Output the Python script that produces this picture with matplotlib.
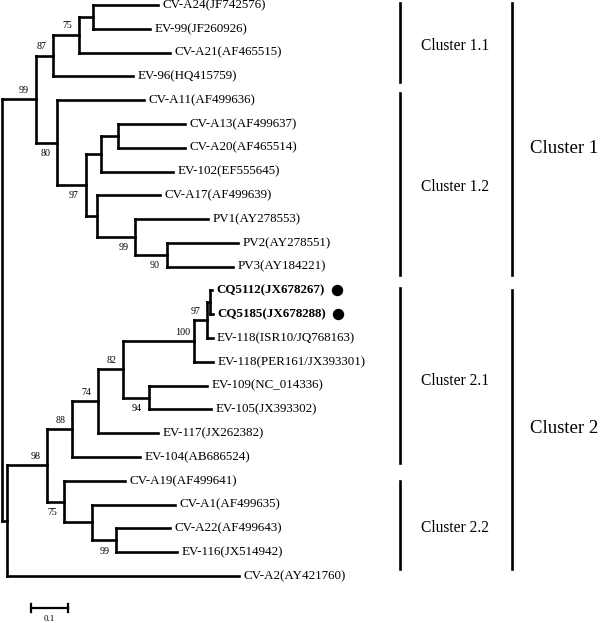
"""
EV/CV 系统发育树（邻接树，自展值标注于节点左侧）
"""

import re
import matplotlib
matplotlib.use("Agg")
import matplotlib.pyplot as plt

# 树结构（Newick，枝长为每位点替换数，节点标签为自展值）
NEWICK = (
    "((((('CV-A24(JF742576)':0.176,'EV-99(JF260926)':0.154):0.038,"
    "'CV-A21(AF465515)':0.246)75:0.070,'EV-96(HQ415759)':0.216)87:0.046,"
    "('CV-A11(AF499636)':0.235,((('CV-A13(AF499637)':0.181,'CV-A20(AF465514)':0.181):0.046,"
    "'EV-102(EF555645)':0.195):0.041,('CV-A17(AF499639)':0.170,('PV1(AY278553)':0.197,"
    "('PV2(AY278551)':0.192,'PV3(AY184221)':0.178)90:0.086)99:0.103):0.030)97:0.078)80:0.057)99:0.092,"
    "(((((((('CQ5112(JX678267)':0.005,'CQ5185(JX678288)':0.008):0.008,"
    "'EV-118(ISR10/JQ768163)':0.014)97:0.035,'EV-118(PER161/JX393301)':0.051)100:0.192,"
    "('EV-109(NC_014336)':0.159,'EV-105(JX393302)':0.168)94:0.068)82:0.068,"
    "'EV-117(JX262382)':0.162)74:0.070,'EV-104(AB686524)':0.184)88:0.068,"
    "('CV-A19(AF499641)':0.165,('CV-A1(AF499635)':0.224,('CV-A22(AF499643)':0.146,"
    "'EV-116(JX514942)':0.165)99:0.065):0.076)75:0.046)98:0.108,'CV-A2(AY421760)':0.627):0.014);"
)

# 本研究分离株（加粗并加圆点）
highlight_leaves = ["CQ5112(JX678267)", "CQ5185(JX678288)"]

# 亚群与群的范围（以叶序号计）及标签
sub_clusters = ["Cluster 1.1", "Cluster 1.2", "Cluster 2.1", "Cluster 2.2"]
sub_spans = [(-0.08, 3.24), (3.70, 11.35), (11.90, 19.25), (20.0, 23.7)]
sub_label_y = [1.72, 7.65, 15.8, 22.0]
main_clusters = ["Cluster 1", "Cluster 2"]
main_spans = [(-0.08, 11.35), (12.0, 23.7)]
main_label_y = [6.05, 17.8]

scale_length = 0.1
scale_label = "0.1"

PX_PER_UNIT = 370.0
ROW_PX = 23.79
SERIF = "Liberation Serif"


def parse_newick(s):
    """
    简单的 Newick 解析，支持带引号的名称。
    """
    tokens = re.findall(r"'[^']*'|[(),:;]|[^(),:;']+", s)
    pos = 0
    special = {"(", ")", ",", ":", ";"}

    def parse_node():
        nonlocal pos
        node = {"children": [], "name": None, "support": None, "length": 0.0}
        if tokens[pos] == "(":
            pos += 1
            node["children"].append(parse_node())
            while tokens[pos] == ",":
                pos += 1
                node["children"].append(parse_node())
            pos += 1  # ')'
            if pos < len(tokens) and tokens[pos] not in special:
                node["support"] = tokens[pos]
                pos += 1
        else:
            node["name"] = tokens[pos].strip("'")
            pos += 1
        if pos < len(tokens) and tokens[pos] == ":":
            node["length"] = float(tokens[pos + 1])
            pos += 2
        return node

    return parse_node()


def layout(node, x0, counter):
    node["x"] = x0 + node["length"]
    if not node["children"]:
        node["y"] = counter[0]
        counter[0] += 1
        return
    for child in node["children"]:
        layout(child, node["x"], counter)
    node["y"] = (node["children"][0]["y"] + node["children"][-1]["y"]) / 2


root = parse_newick(NEWICK)
root["length"] = 0.0
layout(root, 0.0, [0])

fig = plt.figure(figsize=(6.09, 6.23), dpi=100)
ax = fig.add_axes([0, 0, 1, 1])
ax.set_xlim(-2 / PX_PER_UNIT, 607 / PX_PER_UNIT)
ax.set_ylim((623 - 5) / ROW_PX, -5 / ROW_PX)
ax.axis("off")

line_kw = dict(color="black", lw=1.9, solid_capstyle="projecting")
leaf_texts = {}


def draw(node, is_first):
    # 自展值：第一个子节点标在枝上方，其余标在下方
    for i, child in enumerate(node["children"]):
        ax.plot([node["x"], child["x"]], [child["y"], child["y"]], **line_kw)
        draw(child, i == 0)
    if node["children"]:
        ys = [c["y"] for c in node["children"]]
        ax.plot([node["x"], node["x"]], [min(ys), max(ys)], **line_kw)
        if node["support"]:
            dy = 6.5 if is_first else -7.9
            ax.annotate(node["support"], xy=(node["x"], node["y"]), xytext=(-8.6, dy),
                        textcoords="offset points", ha="center", va="center",
                        fontsize=7.2, family=SERIF)
    else:
        bold = node["name"] in highlight_leaves
        t = ax.annotate(node["name"], xy=(node["x"], node["y"]), xytext=(3.2, 0),
                        textcoords="offset points", ha="left", va="center",
                        fontsize=9.4, family=SERIF,
                        fontweight="bold" if bold else "normal")
        leaf_texts[node["name"]] = (t, node["y"])


draw(root, True)

# 分离株后面的黑色圆点
fig.canvas.draw()
renderer = fig.canvas.get_renderer()
for name in highlight_leaves:
    t, y = leaf_texts[name]
    bb = t.get_window_extent(renderer)
    x_data = ax.transData.inverted().transform((bb.x1 + 12, 0))[0]
    ax.plot(x_data, y, "o", color="black", markersize=7.2)

# 右侧分群竖线
sub_bar_x = 398 / PX_PER_UNIT
main_bar_x = 510 / PX_PER_UNIT
for label, (y0, y1), ly in zip(sub_clusters, sub_spans, sub_label_y):
    ax.plot([sub_bar_x, sub_bar_x], [y0, y1], color="black", lw=1.9)
    ax.text(sub_bar_x + 55 / PX_PER_UNIT, ly, label, ha="center", va="center",
            fontsize=11.2, family=SERIF)
for label, (y0, y1), ly in zip(main_clusters, main_spans, main_label_y):
    ax.plot([main_bar_x, main_bar_x], [y0, y1], color="black", lw=1.9)
    ax.text(main_bar_x + 52 / PX_PER_UNIT, ly, label, ha="center", va="center",
            fontsize=13.5, family=SERIF)

# 比例尺
sx0 = 29 / PX_PER_UNIT
sy = (608 - 5) / ROW_PX
ax.plot([sx0, sx0 + scale_length], [sy, sy], color="black", lw=1.6)
for xx in (sx0, sx0 + scale_length):
    ax.plot([xx, xx], [sy - 0.15, sy + 0.15], color="black", lw=1.6)
ax.text(sx0 + scale_length / 2, sy + 0.47, scale_label, ha="center", va="center",
        fontsize=6.5, family=SERIF)

fig.savefig("out.png", dpi=100)
